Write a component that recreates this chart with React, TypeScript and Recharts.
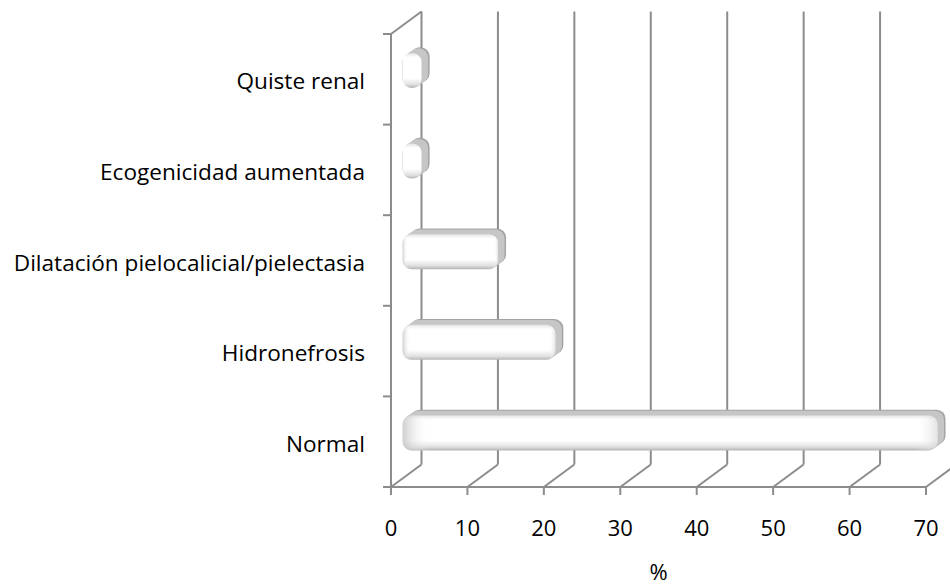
import { Bar, BarChart, CartesianGrid, XAxis, YAxis } from "recharts";

const categories = [
  "Quiste renal",
  "Ecogenicidad aumentada",
  "Dilatación pielocalicial/pielectasia",
  "Hidronefrosis",
  "Normal"
];
const percentages = [2.5, 2.5, 12.5, 20, 70];
const xTicks = [0, 10, 20, 30, 40, 50, 60, 70];

const data = categories.map((name, i) => ({ name, value: percentages[i] }));

const AXIS = "#8c8c8c";
const FONT = "'Open Sans', Lato, sans-serif";
// oblique offset of the back wall
const DEPTH_X = 30.5;
const DEPTH_Y = 22.5;
const TICK = 8;
const LABEL_GAP = 18;

function WallLine(props: any) {
  const { x1, y1, y2, index } = props;
  const bx = x1 + DEPTH_X;
  return (
    <g key={props.key}>
      <line x1={x1} y1={y2} x2={bx} y2={y2 - DEPTH_Y} stroke={AXIS} strokeWidth={2} />
      <line x1={bx} y1={y1 - DEPTH_Y} x2={bx} y2={y2 - DEPTH_Y} stroke={AXIS} strokeWidth={2} />
      {index === 0 && (
        <line x1={x1} y1={y1} x2={bx} y2={y1 - DEPTH_Y} stroke={AXIS} strokeWidth={2} />
      )}
    </g>
  );
}

function CategoryTick(props: any) {
  const { x, y, payload, index } = props;
  const half = payload?.offset ?? 45.3;
  const ax = x + TICK + LABEL_GAP;
  return (
    <g>
      <text x={x} y={y + 2} dy="0.355em" textAnchor="end" fontFamily={FONT} fontSize={22.6} fill="#000">
        {payload.value}
      </text>
      {index === 0 && (
        <line x1={ax - TICK} y1={y - half} x2={ax} y2={y - half} stroke={AXIS} strokeWidth={2} />
      )}
      <line x1={ax - TICK} y1={y + half} x2={ax} y2={y + half} stroke={AXIS} strokeWidth={2} />
    </g>
  );
}

// bar with a short oblique extrusion behind a bevelled white face
function BevelBar(props: any) {
  const { x, y, width, height } = props;
  const fx = x + 11.5;
  const fy = y - 9;
  const fw = Math.max(width, 0);
  const r = Math.min(9, fw / 2 + 2);
  const layers = [8, 6.5, 5, 3.5, 2, 1];
  return (
    <g>
      {layers.map((d) => (
        <rect
          key={d}
          x={fx + d}
          y={fy - d * 0.72}
          width={fw}
          height={height}
          rx={r}
          ry={r}
          fill={d === 8 ? "#a3a3a3" : "#c6c6c6"}
        />
      ))}
      <rect x={fx} y={fy} width={fw} height={height} rx={r} ry={r} fill="url(#barFace)" />
      <rect x={fx} y={fy} width={fw} height={height} rx={r} ry={r} fill="url(#barEnds)" />
    </g>
  );
}

export default function App() {
  return (
    <div style={{ position: "absolute", left: 0, top: 0, background: "#fff" }}>
      <BarChart
        width={950}
        height={588}
        data={data}
        layout="vertical"
        margin={{ top: 34, right: 24, bottom: 0, left: 0 }}
      >
        <defs>
          <linearGradient id="barFace" x1="0" y1="0" x2="0" y2="1">
            <stop offset="0" stopColor="#e4e4e4" />
            <stop offset="0.12" stopColor="#ffffff" />
            <stop offset="0.72" stopColor="#ffffff" />
            <stop offset="0.9" stopColor="#e0e0e0" />
            <stop offset="1" stopColor="#b4b4b4" />
          </linearGradient>
          <linearGradient id="barEnds" x1="0" y1="0" x2="1" y2="0">
            <stop offset="0" stopColor="#bfbfbf" stopOpacity={0.75} />
            <stop offset="0.05" stopColor="#ffffff" stopOpacity={0} />
            <stop offset="0.96" stopColor="#ffffff" stopOpacity={0} />
            <stop offset="1" stopColor="#cfcfcf" stopOpacity={0.6} />
          </linearGradient>
        </defs>
        <CartesianGrid horizontal={false} vertical={WallLine} />
        <XAxis
          type="number"
          domain={[0, 70]}
          ticks={xTicks}
          interval={0}
          height={101}
          axisLine={{ stroke: AXIS, strokeWidth: 2 }}
          tickLine={{ stroke: AXIS, strokeWidth: 2 }}
          tickSize={TICK}
          tickMargin={25}
          tick={{ fill: "#000", fontSize: 22, fontFamily: FONT }}
          label={{
            value: "%",
            position: "insideBottom",
            offset: 8,
            fill: "#000",
            fontSize: 22,
            fontFamily: FONT
          }}
        />
        <YAxis
          type="category"
          dataKey="name"
          width={391}
          axisLine={{ stroke: AXIS, strokeWidth: 2 }}
          tickLine={false}
          tickSize={TICK}
          tickMargin={LABEL_GAP}
          tick={<CategoryTick />}
          interval={0}
        />
        <Bar dataKey="value" barSize={35} shape={BevelBar} isAnimationActive={false} />
      </BarChart>
    </div>
  );
}
